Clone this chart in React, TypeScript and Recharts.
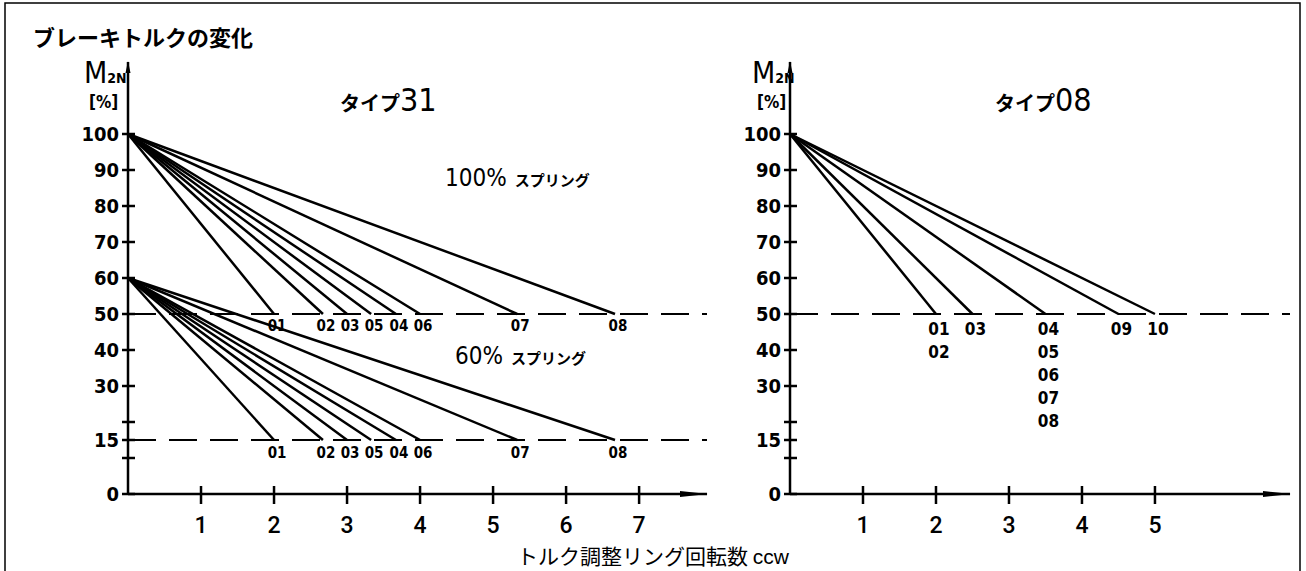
import React from 'react';
import { LineChart, Line, XAxis, YAxis, ReferenceLine } from 'recharts';

// shared axis ticks
const yTicks = [0, 10, 15, 20, 30, 40, 50, 60, 70, 80, 90, 100];
const yUnlabelled = [10, 20];
const xTicks31 = [1, 2, 3, 4, 5, 6, 7];
const xTicks08 = [1, 2, 3, 4, 5];

// タイプ31: turns of the ring until the torque has dropped to the end value
const sizes31 = ['01', '02', '03', '05', '04', '06', '07', '08'];
const turns31 = [2, 2.67, 3, 3.33, 3.67, 4, 5.33, 6.67];
const spring100 = [100, 50];
const spring60 = [60, 15];

// タイプ08: sizes sharing the same line are grouped
const sizes08 = [['01', '02'], ['03'], ['04', '05', '06', '07', '08'], ['09'], ['10']];
const turns08 = [2, 2.5, 3.5, 4.5, 5];
const spring08 = [100, 50];

const NUM_FONT = "'DejaVu Sans Condensed', 'DejaVu Sans', sans-serif";
const JP_FONT = "'Noto Sans CJK JP', 'Noto Sans', sans-serif";

const toLine = (start: number, end: number, turns: number) => [
  { x: 0, y: start },
  { x: turns, y: end },
];

const YTick = ({ x, y, payload }: any) => (
  <g>
    <line x1={x - 6} x2={x + 7} y1={y} y2={y} stroke="#000" strokeWidth={2.5} />
    {!yUnlabelled.includes(payload.value) && (
      <text x={x - 9} y={y + 7} textAnchor="end" fontFamily={NUM_FONT} fontWeight="bold" fontSize={20} fill="#000">
        {payload.value}
      </text>
    )}
  </g>
);

const XTick = ({ x, y, payload }: any) => (
  <g>
    <line x1={x} x2={x} y1={y - 8} y2={y + 10} stroke="#000" strokeWidth={2.5} />
    <text x={x} y={y + 39} textAnchor="middle" fontFamily="Roboto, sans-serif" fontWeight={500} fontSize={23} fill="#000">
      {payload.value}
    </text>
  </g>
);

// end-of-line labels rendered through the dot renderer (only on the last point)
const endLabel = (names: string[], size: number, gap: number, offset: number) => (p: any) => {
  if (p.index !== 1) return <g key={`d${p.index}`} />;
  return (
    <text key={`d${p.index}`} fontFamily={NUM_FONT} fontWeight="bold" fontSize={size} fill="#000" textAnchor="middle">
      {names.map((n, k) => (
        <tspan key={n} x={p.cx + 3} y={p.cy + offset + k * gap}>{n}</tspan>
      ))}
    </text>
  );
};

const ArrowDefs = ({ id }: { id: string }) => (
  <defs>
    <marker id={`${id}x`} viewBox="0 0 28 10" markerWidth={28} markerHeight={10} refX={27} refY={5} orient="auto" markerUnits="userSpaceOnUse">
      <path d="M0,2 L28,5 L0,8 Z" fill="#000" />
    </marker>
    <marker id={`${id}y`} viewBox="0 0 12 6" markerWidth={12} markerHeight={6} refX={11} refY={3} orient="auto-start-reverse" markerUnits="userSpaceOnUse">
      <path d="M0,0.5 L12,3 L0,5.5 Z" fill="#000" />
    </marker>
  </defs>
);

const axisStyle = { stroke: '#000', strokeWidth: 2.5 };

export default function App() {
  return (
    <div style={{ position: 'absolute', left: 0, top: 0, width: 1306, height: 571, overflow: 'hidden', background: '#fff' }}>
      <div style={{ position: 'absolute', left: 0, top: 0 }}>
        <LineChart width={720} height={571} margin={{ top: 62, right: 13, bottom: 0, left: 0 }}>
          <ArrowDefs id="a31" />
          <XAxis
            dataKey="x"
            type="number"
            domain={[0, 7.93]}
            ticks={xTicks31}
            interval={0}
            height={77}
            tickSize={0}
            tickMargin={0}
            tickLine={false}
            axisLine={{ ...axisStyle, markerEnd: 'url(#a31x)' }}
            tick={(p: any) => <XTick {...p} />}
          />
          <YAxis
            dataKey="y"
            type="number"
            domain={[0, 120]}
            ticks={yTicks}
            interval={0}
            width={128}
            tickSize={0}
            tickMargin={0}
            tickLine={false}
            axisLine={{ ...axisStyle, markerStart: 'url(#a31y)' }}
            tick={(p: any) => <YTick {...p} />}
          />
          <ReferenceLine y={spring100[1]} stroke="#000" strokeWidth={2} strokeDasharray="28 13" />
          <ReferenceLine y={spring60[1]} stroke="#000" strokeWidth={2} strokeDasharray="28 13" />
          {turns31.map((t, i) => (
            <Line
              key={`h${i}`}
              data={toLine(spring100[0], spring100[1], t)}
              dataKey="y"
              type="linear"
              stroke="#000"
              strokeWidth={2.5}
              dot={endLabel([sizes31[i]], 15, 0, 17)}
              activeDot={false}
              isAnimationActive={false}
            />
          ))}
          {turns31.map((t, i) => (
            <Line
              key={`s${i}`}
              data={toLine(spring60[0], spring60[1], t)}
              dataKey="y"
              type="linear"
              stroke="#000"
              strokeWidth={2.5}
              dot={endLabel([sizes31[i]], 15, 0, 18)}
              activeDot={false}
              isAnimationActive={false}
            />
          ))}
        </LineChart>
      </div>
      <div style={{ position: 'absolute', left: 720, top: 0 }}>
        <LineChart width={586} height={571} margin={{ top: 62, right: 16, bottom: 0, left: 0 }}>
          <ArrowDefs id="a08" />
          <XAxis
            dataKey="x"
            type="number"
            domain={[0, 6.85]}
            ticks={xTicks08}
            interval={0}
            height={77}
            tickSize={0}
            tickMargin={0}
            tickLine={false}
            axisLine={{ ...axisStyle, markerEnd: 'url(#a08x)' }}
            tick={(p: any) => <XTick {...p} />}
          />
          <YAxis
            dataKey="y"
            type="number"
            domain={[0, 120]}
            ticks={yTicks}
            interval={0}
            width={70}
            tickSize={0}
            tickMargin={0}
            tickLine={false}
            axisLine={{ ...axisStyle, markerStart: 'url(#a08y)' }}
            tick={(p: any) => <YTick {...p} />}
          />
          <ReferenceLine y={spring08[1]} stroke="#000" strokeWidth={2} strokeDasharray="28 13" />
          {turns08.map((t, i) => (
            <Line
              key={`r${i}`}
              data={toLine(spring08[0], spring08[1], t)}
              dataKey="y"
              type="linear"
              stroke="#000"
              strokeWidth={2.5}
              dot={endLabel(sizes08[i], 17, 23, 21)}
              activeDot={false}
              isAnimationActive={false}
            />
          ))}
        </LineChart>
      </div>
      <svg width={1306} height={571} style={{ position: 'absolute', left: 0, top: 0, pointerEvents: 'none' }}>
        <rect x={5} y={3} width={1295} height={620} fill="none" stroke="#000" strokeWidth={1.5} />
        <text x={33} y={46} fontFamily={JP_FONT} fontWeight={700} fontSize={22} fill="#000">ブレーキトルクの変化</text>

        <text x={84} y={83} fill="#000">
          <tspan fontFamily="'DejaVu Sans Condensed', sans-serif" fontSize={30}>M</tspan>
          <tspan fontFamily={NUM_FONT} fontWeight="bold" fontSize={14}>2N</tspan>
        </text>
        <text x={89} y={108} fontFamily={NUM_FONT} fontWeight="bold" fontSize={17} fill="#000">[%]</text>
        <text x={340} y={111} fill="#000">
          <tspan fontFamily={JP_FONT} fontWeight="bold" fontSize={20}>タイプ</tspan>
          <tspan fontFamily="'DejaVu Sans Condensed', sans-serif" fontSize={32}>31</tspan>
        </text>
        <text x={445} y={186} fill="#000">
          <tspan fontFamily="'DejaVu Sans Condensed', sans-serif" fontSize={24}>100%</tspan>
          <tspan fontFamily={JP_FONT} fontWeight="bold" fontSize={15} dx={8}>スプリング</tspan>
        </text>
        <text x={455} y={364} fill="#000">
          <tspan fontFamily="'DejaVu Sans Condensed', sans-serif" fontSize={24}>60%</tspan>
          <tspan fontFamily={JP_FONT} fontWeight="bold" fontSize={15} dx={8}>スプリング</tspan>
        </text>

        <text x={752} y={83} fill="#000">
          <tspan fontFamily="'DejaVu Sans Condensed', sans-serif" fontSize={30}>M</tspan>
          <tspan fontFamily={NUM_FONT} fontWeight="bold" fontSize={14}>2N</tspan>
        </text>
        <text x={757} y={108} fontFamily={NUM_FONT} fontWeight="bold" fontSize={17} fill="#000">[%]</text>
        <text x={995} y={111} fill="#000">
          <tspan fontFamily={JP_FONT} fontWeight="bold" fontSize={20}>タイプ</tspan>
          <tspan fontFamily="'DejaVu Sans Condensed', sans-serif" fontSize={32}>08</tspan>
        </text>

        <text x={653} y={564} textAnchor="middle" fontFamily={JP_FONT} fontSize={21} fill="#000">
          トルク調整リング回転数 <tspan fontFamily="'Liberation Sans', sans-serif">ccw</tspan>
        </text>
      </svg>
    </div>
  );
}
